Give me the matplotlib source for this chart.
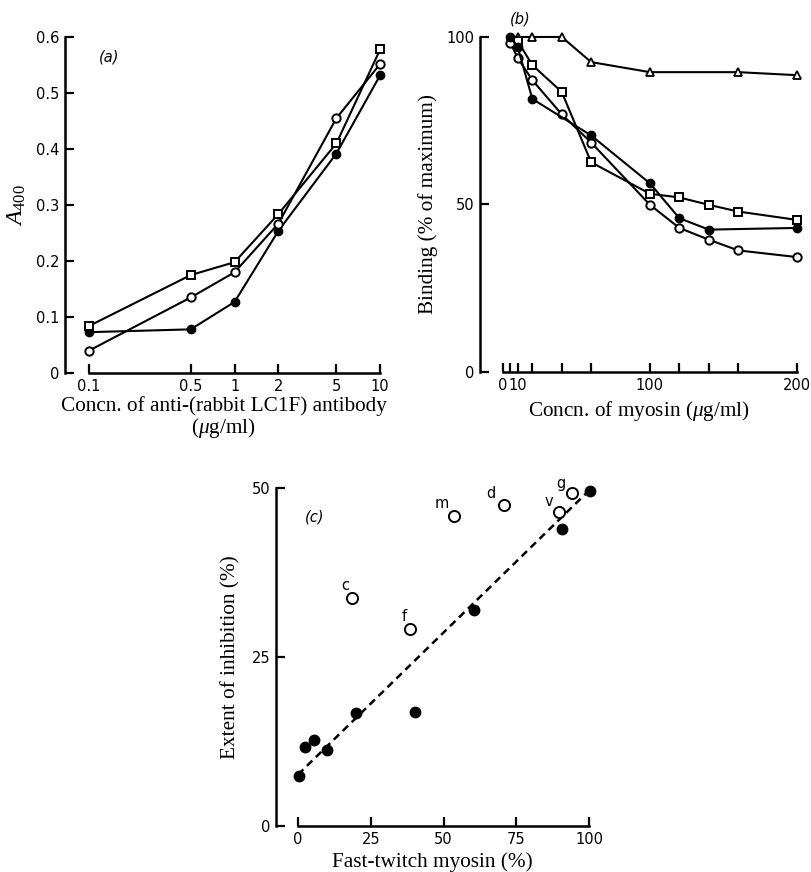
import matplotlib
matplotlib.use("Agg")
import matplotlib.pyplot as plt

plt.rcParams['font.family'] = ['DejaVu Sans']
plt.rcParams['mathtext.fontset'] = 'custom'
plt.rcParams['mathtext.rm'] = 'Liberation Serif'
plt.rcParams['mathtext.it'] = 'Liberation Serif:italic'

# (a) absorbance vs antibody concentration
conc_a = [0.1, 0.5, 1, 2, 5, 10]
a_square = [0.084, 0.175, 0.198, 0.284, 0.410, 0.578]
a_open = [0.040, 0.135, 0.180, 0.267, 0.455, 0.552]
a_filled = [0.073, 0.078, 0.127, 0.254, 0.392, 0.532]
a_ticks = [0.1, 0.5, 1, 2, 5, 10]
a_ticklabels = ['0.1', '0.5', '1', '2', '5', '10']
a_yticks = [0, 0.1, 0.2, 0.3, 0.4, 0.5, 0.6]
a_yticklabels = ['0', '0.1', '0.2', '0.3', '0.4', '0.5', '0.6']

# (b) binding vs myosin concentration
tri_x = [10, 20, 40, 60, 100, 160, 200]
tri_y = [100, 100, 100, 92.5, 89.5, 89.5, 88.6]
bfill_x = [5, 10, 20, 60, 100, 120, 140, 200]
bfill_y = [100, 97, 81.5, 70.6, 56.3, 45.9, 42.5, 43]
bopen_x = [5, 10, 20, 40, 60, 100, 120, 140, 160, 200]
bopen_y = [98.3, 93.8, 87.1, 76.9, 68.5, 49.9, 43, 39.5, 36.3, 34.3]
bsq_x = [10, 20, 40, 60, 100, 120, 140, 160, 200]
bsq_y = [98.8, 91.6, 83.6, 62.6, 53.2, 52.1, 49.9, 47.9, 45.4]
b_ticks = [0, 5, 10, 20, 40, 60, 100, 120, 140, 160, 200]
b_ticklabels = ['0', '', '10', '', '', '', '100', '', '', '', '200']

# (c) inhibition vs fast-twitch myosin
cfill_x = [0.5, 2.5, 5.4, 10, 20, 40.2, 60.5, 90.7, 100.5]
cfill_y = [7.4, 11.7, 12.7, 11.3, 16.7, 16.9, 31.9, 44, 49.6]
copen_x = [18.7, 38.5, 53.7, 70.7, 89.6, 94.2]
copen_y = [33.7, 29.2, 45.9, 47.5, 46.4, 49.2]
copen_lab = ['c', 'f', 'm', 'd', 'v', 'g']
lab_off = [(-5, 9), (-4, 9), (-9, 9), (-9, 8), (-7, 8), (-8, 7)]
fit_x = [0, 99]
fit_y = [7.6, 49.2]

serif = {'family': 'Liberation Serif', 'size': 15.3}
lw = 1.5
tick_fs = 10.5


def style(ax, x0, x1):
    for s in ['top', 'right']:
        ax.spines[s].set_visible(False)
    for s in ['left', 'bottom']:
        ax.spines[s].set_linewidth(1.8)
    ax.spines['bottom'].set_bounds(x0, x1)
    ax.tick_params(direction='in', length=6.5, width=1.6, labelsize=tick_fs)
    ax.tick_params(axis='y', pad=4)
    ax.tick_params(axis='x', pad=4)
    ax.minorticks_off()


fig = plt.figure(figsize=(8.11, 8.72), dpi=100)

# panel a
ax = fig.add_axes([0.0801, 0.5722, 0.391, 0.3853])
ax.set_xscale('log')
ax.plot(conc_a, a_filled, '-o', color='k', lw=lw, ms=6, mfc='k', clip_on=False)
ax.plot(conc_a, a_open, '-o', color='k', lw=lw, ms=6, mfc='white', mew=1.4, clip_on=False)
ax.plot(conc_a, a_square, '-s', color='k', lw=lw, ms=6, mfc='white', mew=1.4, clip_on=False)
ax.set_xlim(0.0684, 10.3)
ax.set_ylim(0, 0.6)
style(ax, 0.1, 10)
ax.set_xticks(a_ticks)
ax.set_xticklabels(a_ticklabels)
ax.set_yticks(a_yticks)
ax.set_yticklabels(a_yticklabels)
ax.minorticks_off()
ax.set_xlabel('Concn. of anti-(rabbit LC1F) antibody\n($\\mu$g/ml)', fontdict=serif,
              labelpad=2, linespacing=1.0)
ax.set_ylabel('$A_{\\mathrm{400}}$', fontsize=17, labelpad=6)
ax.text(0.14, 0.94, '(a)', transform=ax.transAxes, fontsize=tick_fs, fontstyle='italic',
        ha='center', va='center')

# panel b
ax = fig.add_axes([0.5919, 0.5734, 0.392, 0.3842])
ax.plot(tri_x, tri_y, '-^', color='k', lw=lw, ms=6, mfc='white', mew=1.3, clip_on=False)
ax.plot(bsq_x, bsq_y, '-s', color='k', lw=lw, ms=6, mfc='white', mew=1.4, clip_on=False)
ax.plot(bopen_x, bopen_y, '-o', color='k', lw=lw, ms=6, mfc='white', mew=1.4, clip_on=False)
ax.plot(bfill_x, bfill_y, '-o', color='k', lw=lw, ms=6, mfc='k', clip_on=False)
ax.set_xlim(-15.6, 200.7)
ax.set_ylim(0, 100)
style(ax, 0, 200)
ax.set_xticks(b_ticks)
ax.set_xticklabels(b_ticklabels)
ax.set_yticks([0, 50, 100])
ax.set_xlabel('Concn. of myosin ($\\mu$g/ml)', fontdict=serif, labelpad=5)
ax.set_ylabel('Binding (% of maximum)', fontdict=serif, labelpad=6)
ax.text(0.125, 1.055, '(b)', transform=ax.transAxes, fontsize=tick_fs, fontstyle='italic',
        ha='center', va='center')

# panel c
ax = fig.add_axes([0.3403, 0.0528, 0.386, 0.3876])
ax.plot(fit_x, fit_y, color='k', lw=1.8, dashes=(3, 2), zorder=1)
ax.plot(cfill_x, cfill_y, 'o', color='k', ms=7.5, clip_on=False, zorder=3)
ax.plot(copen_x, copen_y, 'o', color='k', ms=8, mfc='white', mew=1.4, clip_on=False, zorder=3)
for x, y, t, off in zip(copen_x, copen_y, copen_lab, lab_off):
    ax.annotate(t, (x, y), xytext=off, textcoords='offset points', fontsize=tick_fs,
                ha='center', va='center')
ax.set_xlim(-7.56, 100)
ax.set_ylim(0, 50)
style(ax, 0, 100)
ax.set_xticks([0, 25, 50, 75, 100])
ax.set_yticks([0, 25, 50])
ax.set_xlabel('Fast-twitch myosin (%)', fontdict=serif, labelpad=4)
ax.set_ylabel('Extent of inhibition (%)', fontdict=serif, labelpad=8)
ax.text(0.125, 0.915, '(c)', transform=ax.transAxes, fontsize=tick_fs, fontstyle='italic',
        ha='center', va='center')

fig.savefig('out.png', dpi=100)
